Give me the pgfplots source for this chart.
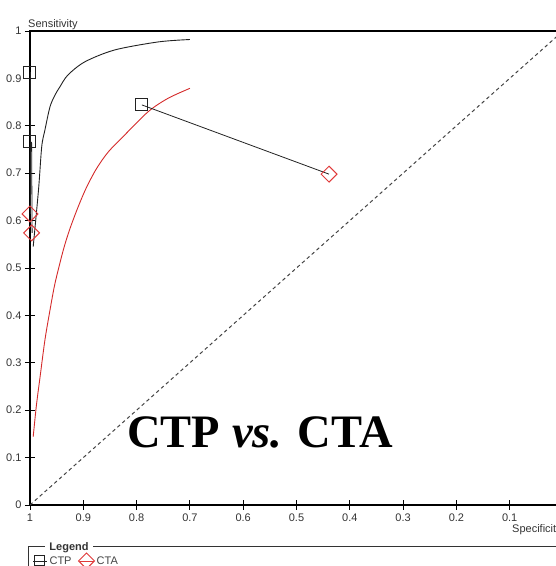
\documentclass[border=0pt]{standalone}
\usepackage{pgfplots}
\pgfplotsset{compat=1.18}
\usepackage{fontspec}
\setmainfont{Liberation Sans}
\newfontfamily\titlefont{Liberation Serif}
\definecolor{ctpc}{HTML}{222222}
\definecolor{ctac}{HTML}{E03A3A}
\definecolor{redline}{HTML}{D42A2A}
\definecolor{tickc}{HTML}{333333}
\definecolor{legc}{HTML}{444444}
\begin{document}
\begin{tikzpicture}[x=1bp,y=1bp]
\path[use as bounding box] (0,0) rectangle (556,566);
\clip (0,0) rectangle (556,566);
\begin{axis}[
  at={(30bp,61bp)}, anchor=south west, scale only axis,
  width=533bp, height=474bp,
  xmin=0, xmax=1, ymin=0, ymax=1, x dir=reverse,
  xtick={0.1,0.2,0.3,0.4,0.5,0.6,0.7,0.8,0.9,1},
  ytick={0,0.1,0.2,0.3,0.4,0.5,0.6,0.7,0.8,0.9,1},
  tick align=center, major tick length=10bp,
  xtick pos=bottom, ytick pos=left,
  tick style={black, line width=0.8bp},
  axis line style={black, line width=1.2bp},
  ticklabel style={font=\fontsize{11bp}{13bp}\selectfont, text=tickc},
  /pgf/number format/assume math mode=true,
  clip mode=individual,
  xlabel={Specificity},
  xlabel style={at={(axis description cs:0,0)}, anchor=north west, xshift=482bp, yshift=-19bp,
    font=\fontsize{11bp}{13bp}\selectfont, text=tickc, inner sep=0pt},
  legend style={at={(axis description cs:0,-0.118)}, anchor=west, xshift=3bp,
    draw=none, fill=none, inner sep=0pt,
    font=\fontsize{11bp}{13bp}\selectfont, text=legc,
    /tikz/every even column/.append style={column sep=5bp}},
  legend columns=-1,
  legend image code/.code={\path (0bp,0bp) -- (14bp,0bp); \draw[#1] plot coordinates {(6bp,0bp)};},
]
% chance line
\addplot[legc, dash pattern=on 3.5bp off 3bp, line width=1bp, forget plot] coordinates {(1,0) (0,1)};
% CTA SROC curve
\addplot[redline, line width=0.9bp, smooth, tension=0.5, forget plot] coordinates {
(0.994,0.144)(0.988,0.210)(0.981,0.271)(0.972,0.348)(0.9625,0.411)(0.953,0.468)
(0.9375,0.538)(0.925,0.583)(0.910,0.628)(0.894,0.670)(0.875,0.710)(0.853,0.745)
(0.822,0.781)(0.778,0.830)(0.741,0.858)(0.700,0.879)};
% CTP SROC curve
\addplot[ctpc, line width=0.9bp, smooth, tension=0.5, forget plot] coordinates {
(0.994,0.545)(0.984,0.665)(0.978,0.756)(0.972,0.791)(0.9625,0.840)(0.953,0.865)
(0.944,0.882)(0.929,0.907)(0.897,0.935)(0.841,0.960)(0.759,0.977)(0.700,0.982)};
% study links (paired)
\addplot[ctpc, line width=0.8bp, forget plot] coordinates {(0.790,0.844)(0.439,0.698)};
\addplot[ctpc, line width=0.8bp, forget plot] coordinates {(0.999,0.913)(0.999,0.614)};
\addplot[ctpc, line width=0.8bp, forget plot] coordinates {(0.997,0.766)(0.996,0.574)};
% CTP studies
\addplot[only marks, mark=square, mark size=6bp, ctpc, mark options={line width=1bp, fill=none}, forget plot]
  coordinates {(1.0,0.913)(1.0,0.766)(0.790,0.844)};
% CTA studies
\addplot[only marks, mark=square, mark size=5.6bp, ctac, mark options={line width=1bp, rotate=45, fill=none}, forget plot]
  coordinates {(1.0,0.614)(0.997,0.574)(0.439,0.698)};
\addlegendimage{only marks, mark=square, mark size=5bp, ctpc, mark options={line width=1bp}}
\addlegendentry{CTP}
\addlegendimage{only marks, mark=square, mark size=5.6bp, ctac, mark options={line width=1bp, rotate=45}}
\addlegendentry{CTA}
\node[anchor=base west, font=\fontsize{11bp}{13bp}\selectfont, text=tickc, inner sep=0pt]
  at (axis description cs:0,1) [xshift=-2bp, yshift=3bp] {Sensitivity};
\node[anchor=base, font=\titlefont\bfseries\fontsize{46.5bp}{50bp}\selectfont, inner sep=0pt]
  at (axis cs:0.5685,0.122) {CTP \textit{vs.} CTA};
\end{axis}
% legend frame
\draw[tickc, line width=1bp] (28,0) -- (28,19) -- (45,19);
\draw[tickc, line width=1bp] (93,19) -- (556,19);
\node[font=\bfseries\fontsize{11bp}{13bp}\selectfont, text=tickc, inner sep=0pt] at (69,18.5) {Legend};
\end{tikzpicture}
\end{document}
